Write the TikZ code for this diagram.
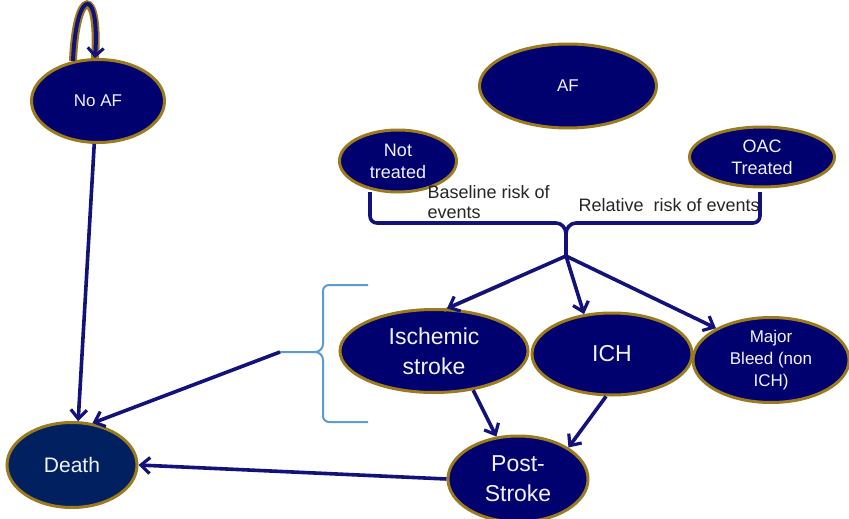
\documentclass[tikz,border=0pt]{standalone}
\usepackage{fontspec}
\setmainfont{Liberation Sans}
\usetikzlibrary{shapes.geometric,arrows.meta,calc}
\definecolor{navyfill}{HTML}{00006E}
\definecolor{deathfill}{HTML}{002060}
\definecolor{goldedge}{HTML}{9C7A1E}
\definecolor{arrowc}{HTML}{12127A}
\definecolor{bracelight}{HTML}{5B9BD5}
\definecolor{ntext}{HTML}{F2F2FF}
\tikzset{
  state/.style={ellipse, draw=goldedge, line width=3pt, fill=navyfill, text=ntext,
    inner sep=0pt, align=center},
  conn/.style={draw=arrowc, line width=3.6pt, -{Straight Barb[length=9pt,width=16pt,line width=3.2pt]}},
  plainline/.style={draw=arrowc, line width=3.6pt},
  lbl/.style={text=black!85, align=left, font=\fontsize{18}{20}\selectfont},
}
\begin{document}
\begin{tikzpicture}[x=1pt,y=-1pt]
\useasboundingbox[fill=white] (0,0) rectangle (849,519);

% nodes
\node[state, minimum width=133pt, minimum height=83pt, font=\fontsize{17}{20}\selectfont] (noaf) at (98,101) {No AF};
\node[state, minimum width=177pt, minimum height=84pt, font=\fontsize{17}{20}\selectfont] (af) at (568,86) {AF};
\node[state, minimum width=117pt, minimum height=62pt, font=\fontsize{18}{22}\selectfont] (nt) at (398,161) {Not\\treated};
\node[state, minimum width=145pt, minimum height=60pt, font=\fontsize{18}{22}\selectfont] (oac) at (762,157) {OAC\\Treated};
\node[state, minimum width=188pt, minimum height=83pt, font=\fontsize{23}{30}\selectfont] (isch) at (434,351) {Ischemic\\stroke};
\node[state, minimum width=160pt, minimum height=82pt, font=\fontsize{23}{30}\selectfont] (ich) at (612,354) {ICH};
\node[state, minimum width=156pt, minimum height=85pt, font=\fontsize{17}{22}\selectfont] (mb) at (771,360) {Major\\Bleed (non\\ICH)};
\node[state, minimum width=140pt, minimum height=86pt, font=\fontsize{23}{30}\selectfont] (post) at (518,479) {Post-\\Stroke};
\node[state, fill=deathfill, minimum width=130pt, minimum height=85pt, font=\fontsize{21}{24}\selectfont] (death) at (72,465) {Death};

% labels
\node[lbl, anchor=west] (lbase) at (424,202) {Baseline risk of\\events};
\node[lbl, anchor=west] (lrel) at (575,205) {Relative\ \ risk of events};

% brace joining treatment arms
\coordinate (cusp) at (566,256);
\draw[plainline, line join=round]
  (370,192) -- (370,216) to[out=-90,in=180] (377,223) -- (556,223)
  to[out=0,in=90] (566,234) -- (cusp);
\draw[plainline, line join=round]
  (760,192) -- (760,216) to[out=-90,in=0] (753,223) -- (576,223)
  to[out=180,in=90] (566,234);

% light blue brace next to events
\coordinate (bmid) at (280,352);
\draw[bracelight, line width=2pt, line join=round]
  (368,285) -- (329,285) to[out=180,in=90] (323,291) -- (323,344)
  to[out=-90,in=0] (315,352) -- (bmid);
\draw[bracelight, line width=2pt, line join=round]
  (368,422) -- (329,422) to[out=180,in=-90] (323,416) -- (323,360)
  to[out=90,in=0] (315,352);

% arrows from cusp
\draw[draw=goldedge, line width=3pt, transform canvas={xshift=-3pt,yshift=-2pt}]
  ($(cusp)!0.45!(isch.73)$) -- (isch.73);
\path[conn] (cusp) -- (isch.73);
\path[conn] (cusp) -- (ich.125);
\path[conn] (cusp) -- (mb.150);

% to post-stroke
\path[conn] (isch.-45) -- (post.117);
\path[conn] (ich.-98) -- (post.32);

% to death
\path[conn] (post.west) -- (death.east);
\path[conn] (noaf.-95) -- (death.82);
\path[conn] (bmid) -- (death.64);

% self loop on No AF
\draw[goldedge, line width=8pt] (noaf.122) .. controls (76,-14) and (100,-14) .. (noaf.94);
\draw[arrowc, line width=4pt, -{Straight Barb[length=8pt,width=16pt,line width=3pt]}]
  (noaf.122) .. controls (76,-14) and (100,-14) .. (noaf.94);
\end{tikzpicture}
\end{document}
